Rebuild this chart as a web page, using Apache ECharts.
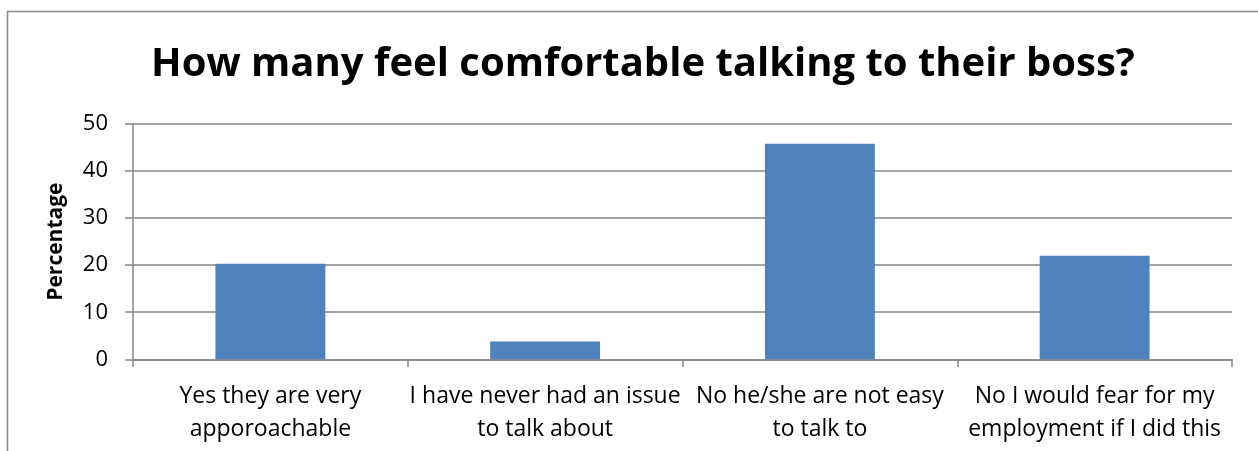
<!DOCTYPE html>
<html>
<head>
<meta charset="utf-8">
<script src="https://cdn.jsdelivr.net/npm/echarts@6/dist/echarts.min.js"></script>
<style>
  html, body { margin: 0; padding: 0; background: #fff; }
  #chart { width: 1258px; height: 451px; }
</style>
</head>
<body>
<div id="chart"></div>
<script>
const titleText = 'How many feel comfortable talking to their boss?';
const categories = [
  'Yes they are very\napporoachable',
  'I have never had an issue\nto talk about',
  'No he/she are not easy\nto talk to',
  'No I would fear for my\nemployment if I did this'
];
const percentages = [20.3, 3.8, 45.8, 22.0];
const yTicks = { min: 0, max: 50, interval: 10 };
const yAxisName = 'Percentage';

const FONT = '"Open Sans"';
const AXIS_GREY = '#868686';
const chart = echarts.init(document.getElementById('chart'), null, { renderer: 'canvas' });

chart.setOption({
  backgroundColor: '#fff',
  animation: false,
  title: {
    text: titleText,
    left: 638,
    textAlign: 'center',
    top: 40,
    textStyle: { fontFamily: FONT, fontWeight: 'bold', fontSize: 40, color: '#000' }
  },
  graphic: [{
    type: 'rect',
    shape: { x: 7.5, y: 11.5, width: 1260, height: 460 },
    style: { fill: null, stroke: '#898989', lineWidth: 1.5 },
    silent: true
  }],
  grid: { left: 133, right: 26, top: 124, bottom: 91.7 },
  xAxis: {
    type: 'category',
    data: categories,
    axisLine: { show: true, lineStyle: { color: AXIS_GREY, width: 1.5 } },
    axisTick: { show: true, alignWithLabel: false, length: 8, lineStyle: { color: AXIS_GREY, width: 1.5 } },
    axisLabel: {
      interval: 0,
      fontFamily: FONT, fontSize: 23, color: '#000',
      lineHeight: 33, margin: 21
    }
  },
  yAxis: {
    type: 'value',
    min: yTicks.min, max: yTicks.max, interval: yTicks.interval,
    name: yAxisName,
    nameLocation: 'middle',
    nameGap: 66,
    nameRotate: 90,
    nameTextStyle: { fontFamily: FONT, fontWeight: 'bold', fontSize: 21, color: '#000' },
    axisLine: { show: true, lineStyle: { color: AXIS_GREY, width: 1.5 } },
    axisTick: { show: true, length: 8, lineStyle: { color: AXIS_GREY, width: 1.5 } },
    axisLabel: { fontFamily: FONT, fontSize: 22, color: '#000', margin: 25 },
    splitLine: { show: true, lineStyle: { color: AXIS_GREY, width: 1.5 } }
  },
  series: [{
    type: 'bar',
    data: percentages,
    barCategoryGap: '60%',
    itemStyle: { color: '#4F81BD' }
  }]
});
</script>
</body>
</html>
